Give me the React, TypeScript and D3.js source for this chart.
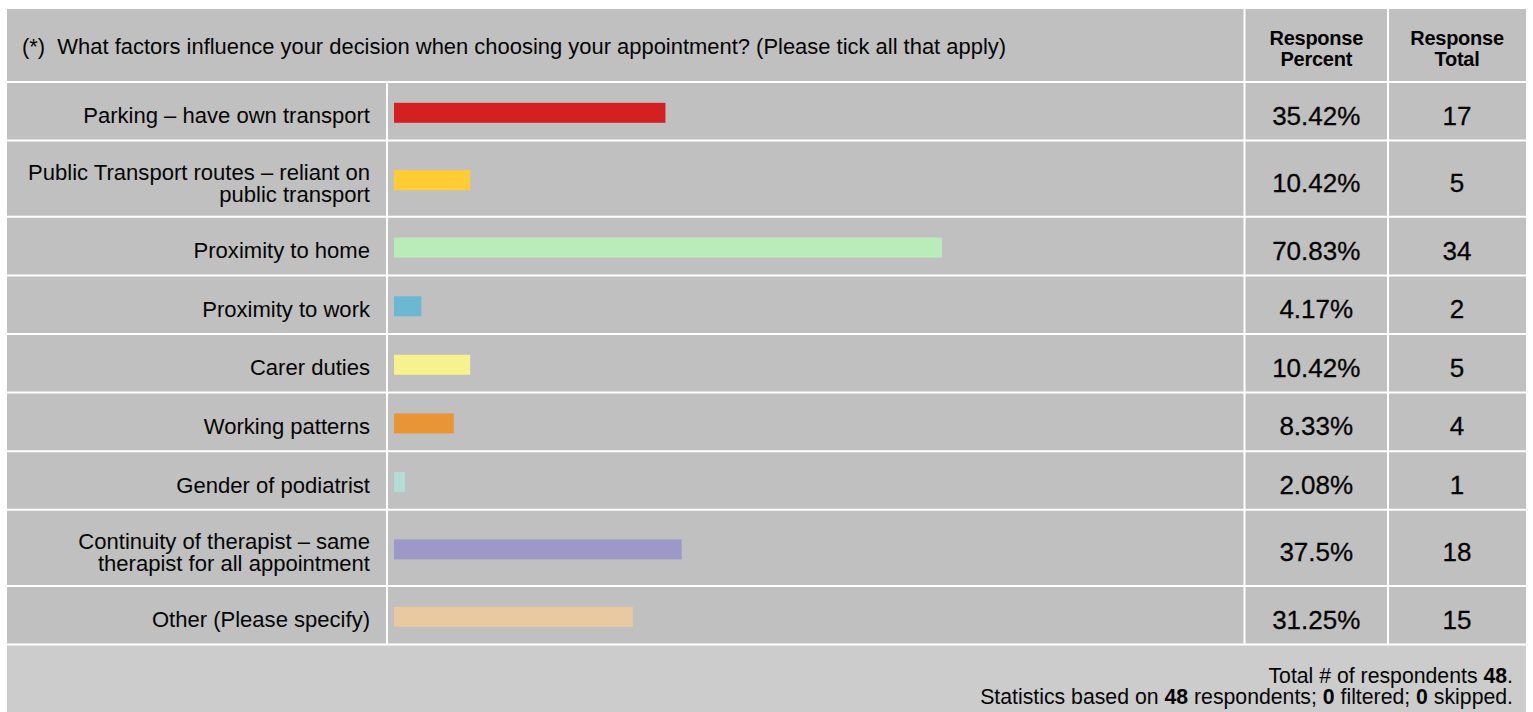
import React from "react";
import * as d3 from "d3";

const categories: string[][] = [
  ["Parking – have own transport"],
  ["Public Transport routes – reliant on", "public transport"],
  ["Proximity to home"],
  ["Proximity to work"],
  ["Carer duties"],
  ["Working patterns"],
  ["Gender of podiatrist"],
  ["Continuity of therapist – same", "therapist for all appointment"],
  ["Other (Please specify)"],
];
const percents: number[] = [35.42, 10.42, 70.83, 4.17, 10.42, 8.33, 2.08, 37.5, 31.25];
const totals: number[] = [17, 5, 34, 2, 5, 4, 1, 18, 15];
const colors: string[] = ["#d42020", "#ffcc33", "#b9ecb9", "#6cb8d2", "#f6f28e", "#ea9535", "#b3dcd4", "#9d98c8", "#e8c9a0"];
const percentLabels: string[] = ["35.42%", "10.42%", "70.83%", "4.17%", "10.42%", "8.33%", "2.08%", "37.5%", "31.25%"];
const title = "(*)\u00a0\u00a0What factors influence your decision when choosing your appointment? (Please tick all that apply)";
const respondents = 48;
const filtered = 0;
const skipped = 0;

export default function App() {
  const W = 1533, H = 712;
  const left = 7, right = 1526, top = 9;
  const headerBottom = 82;
  const col1 = 387, col2 = 1244.5, col3 = 1388;
  const singleH = 58.6, doubleH = 76.2;
  const rowHeights = categories.map((c) => (c.length > 1 ? doubleH : singleH));
  const rowTops: number[] = [];
  let y = headerBottom;
  rowHeights.forEach((h) => { rowTops.push(y); y += h; });
  const tableBottom = y;
  const x = d3.scaleLinear().domain([0, 100]).range([388.8, 388.8 + 781]);
  const barStart = 394;
  const font = "Liberation Sans, Arial, Helvetica, sans-serif";
  const gray = "#c0c0c0";
  const line = "#ffffff";
  const ink = "#050505";

  return (
    <svg width={W} height={H} style={{ position: "absolute", left: 0, top: 0 }} fontFamily={font}>
      <rect x={0} y={0} width={W} height={H} fill="#ffffff" />
      <rect x={left} y={top} width={right - left} height={tableBottom - top} fill={gray} />
      <rect x={left} y={tableBottom} width={right - left} height={H - tableBottom} fill="#cccccc" />
      {/* header */}
      <text x={22} y={(top + headerBottom) / 2 + 8} fontSize={21.95} fill={ink}>{title}</text>
      {[{ cx: (col2 + col3) / 2, l: ["Response", "Percent"] }, { cx: (col3 + right) / 2, l: ["Response", "Total"] }].map((h, i) => (
        <text key={i} x={h.cx} textAnchor="middle" fontSize={20} fontWeight="bold" fill={ink} letterSpacing={-0.25}>
          <tspan x={h.cx} y={45}>{h.l[0]}</tspan>
          <tspan x={h.cx} y={66}>{h.l[1]}</tspan>
        </text>
      ))}
      {/* rows */}
      {categories.map((c, i) => {
        const t = rowTops[i];
        const h = rowHeights[i];
        const cy = t + h / 2;
        return (
          <g key={i}>
            <text textAnchor="end" fontSize={22.05} fill={ink}>
              {c.map((s, j) => (
                <tspan key={j} x={370} y={cy + 12 + (j - (c.length - 1) / 2) * 22}>{s}</tspan>
              ))}
            </text>
            <rect x={barStart} y={cy - 8.5} width={Math.max(0, x(percents[i]) - barStart)} height={20} fill={colors[i]} />
            <text x={(col2 + col3) / 2} y={cy + 13.5} textAnchor="middle" fontSize={26} fill={ink} stroke={ink} strokeWidth={0.3}>{percentLabels[i]}</text>
            <text x={(col3 + right) / 2} y={cy + 13.5} textAnchor="middle" fontSize={26} fill={ink} stroke={ink} strokeWidth={0.3}>{totals[i]}</text>
          </g>
        );
      })}
      {/* grid lines */}
      {[headerBottom, ...rowTops.slice(1), tableBottom].map((yy, i) => (
        <line key={i} x1={left} x2={right} y1={yy} y2={yy} stroke={line} strokeWidth={2} />
      ))}
      {[col2, col3].map((xx, i) => (
        <line key={"v" + i} x1={xx} x2={xx} y1={top} y2={tableBottom} stroke={line} strokeWidth={2} />
      ))}
      <line x1={col1} x2={col1} y1={headerBottom} y2={tableBottom} stroke={line} strokeWidth={2} />
      {/* footer */}
      <text textAnchor="end" fontSize={21.25} fill={ink}>
        <tspan x={1513} y={683}>Total # of respondents <tspan fontWeight="bold">{respondents}</tspan>.</tspan>
      </text>
      <text textAnchor="end" fontSize={21.25} fill={ink}>
        <tspan x={1513} y={704}>Statistics based on <tspan fontWeight="bold">{respondents}</tspan> respondents; <tspan fontWeight="bold">{filtered}</tspan> filtered; <tspan fontWeight="bold">{skipped}</tspan> skipped.</tspan>
      </text>
    </svg>
  );
}
